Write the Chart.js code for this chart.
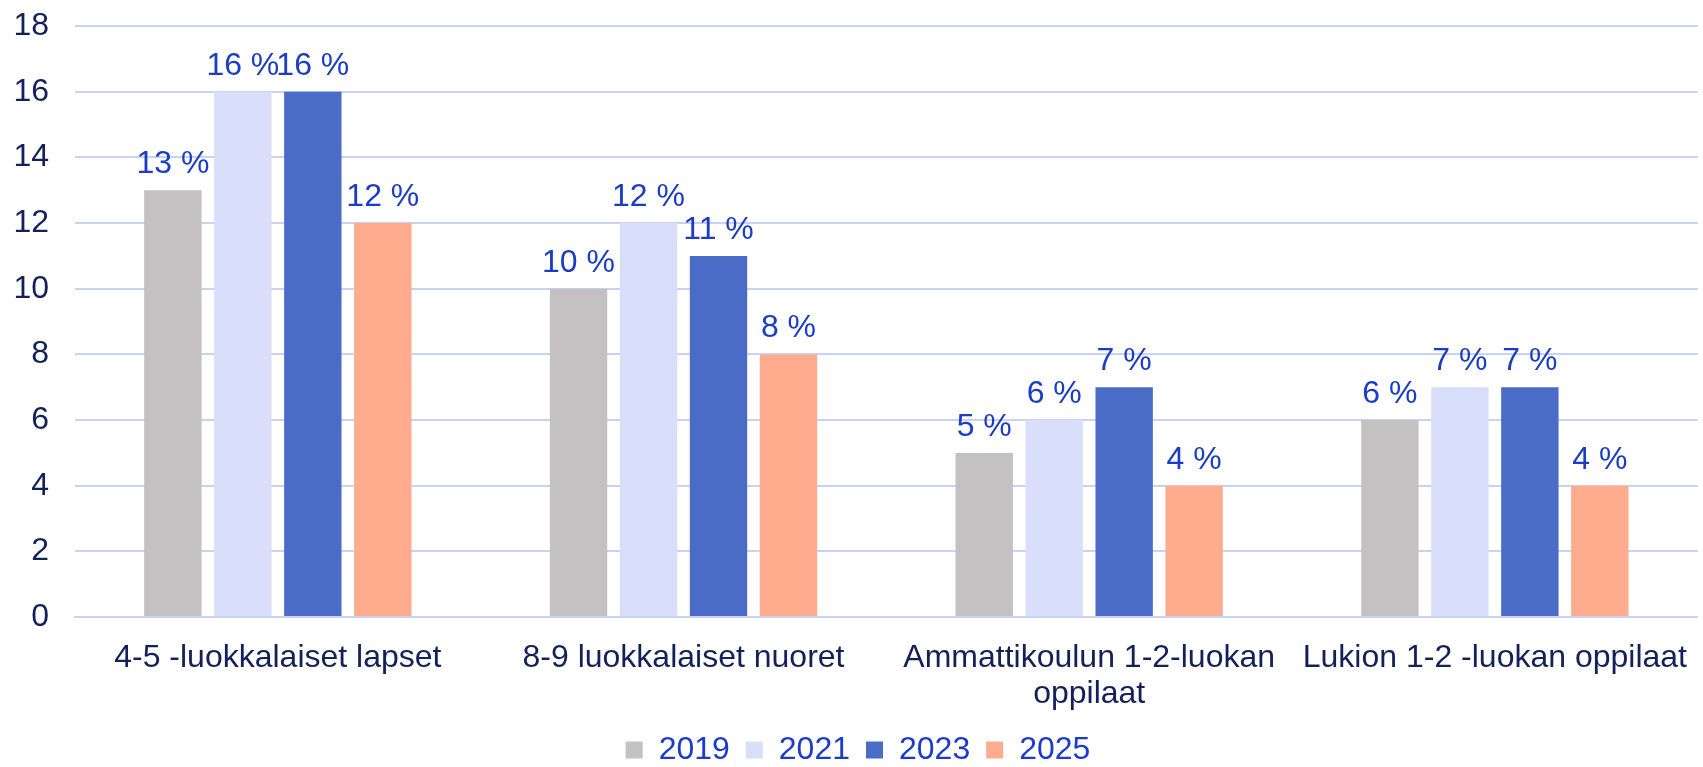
<!DOCTYPE html>
<html>
<head>
<meta charset="utf-8">
<script src="https://cdn.jsdelivr.net/npm/chart.js@4.4.1/dist/chart.umd.min.js"></script>
<style>
  html, body { margin: 0; padding: 0; background: #ffffff; }
  #wrap { position: relative; width: 1703px; height: 767px; }
</style>
</head>
<body>
<div id="wrap"><canvas id="chart"></canvas></div>
<script>
// ── data ──
const categories = [
  "4-5 -luokkalaiset lapset",
  "8-9 luokkalaiset nuoret",
  ["Ammattikoulun 1-2-luokan", "oppilaat"],
  "Lukion 1-2 -luokan oppilaat",
];
const years = ["2019", "2021", "2023", "2025"];
const values2019 = [13, 10, 5, 6];
const values2021 = [16, 12, 6, 7];
const values2023 = [16, 11, 7, 7];
const values2025 = [12, 8, 4, 4];
const yTicks = [0, 2, 4, 6, 8, 10, 12, 14, 16, 18];

const colors = ["#c3c1c2", "#d9dffa", "#4a6bc6", "#ffab8d"];
const FONT = "'Liberation Sans', Arial, sans-serif";
const FS = 32;
const GRID = "#c8d2f6";

// value labels drawn above each bar
const barLabels = {
  id: "barLabels",
  afterDatasetsDraw(chart) {
    const { ctx } = chart;
    ctx.save();
    ctx.font = `${FS}px ${FONT}`;
    ctx.fillStyle = "#1b3cc4";
    ctx.textAlign = "center";
    ctx.textBaseline = "alphabetic";
    chart.data.datasets.forEach((ds, i) => {
      chart.getDatasetMeta(i).data.forEach((bar, j) => {
        ctx.fillText(`${ds.data[j]} %`, bar.x, bar.y - 17);
      });
    });
    ctx.restore();
  },
};

const series = [values2019, values2021, values2023, values2025];

new Chart(document.getElementById("chart"), {
  type: "bar",
  data: {
    labels: categories,
    datasets: years.map((y, i) => ({
      label: y,
      data: series[i],
      backgroundColor: colors[i],
      borderWidth: 0,
      barPercentage: 0.82,
      categoryPercentage: 0.69,
    })),
  },
  options: {
    responsive: true,
    maintainAspectRatio: false,
    animation: false,
    layout: { padding: { top: 0, left: 13, right: 0, bottom: -9 } },
    scales: {
      x: {
        grid: { display: false },
        border: { color: GRID, width: 2 },
        afterFit: (axis) => { axis.height = 101; },
        ticks: {
          color: "#14205a",
          font: { family: FONT, size: FS, lineHeight: 1.1 },
          padding: 16,
          maxRotation: 0,
          autoSkip: false,
        },
      },
      y: {
        min: 0,
        max: 18,
        afterBuildTicks: (axis) => { axis.ticks = yTicks.map((v) => ({ value: v })); },
        afterFit: (axis) => { axis.width = 62; },
        grid: { color: GRID, lineWidth: 2, drawTicks: false },
        border: { display: false },
        ticks: {
          color: "#14205a",
          // tiny line height keeps the axis from reserving extra room above 18
          font: { family: FONT, size: FS, lineHeight: 0.01 },
          padding: 26,
        },
      },
    },
    plugins: {
      legend: {
        position: "bottom",
        labels: {
          color: "#1a3ad0",
          font: { family: FONT, size: FS },
          boxWidth: 17,
          boxHeight: 17,
          padding: 16,
        },
      },
      tooltip: { enabled: false },
    },
  },
  plugins: [barLabels],
});
</script>
</body>
</html>
